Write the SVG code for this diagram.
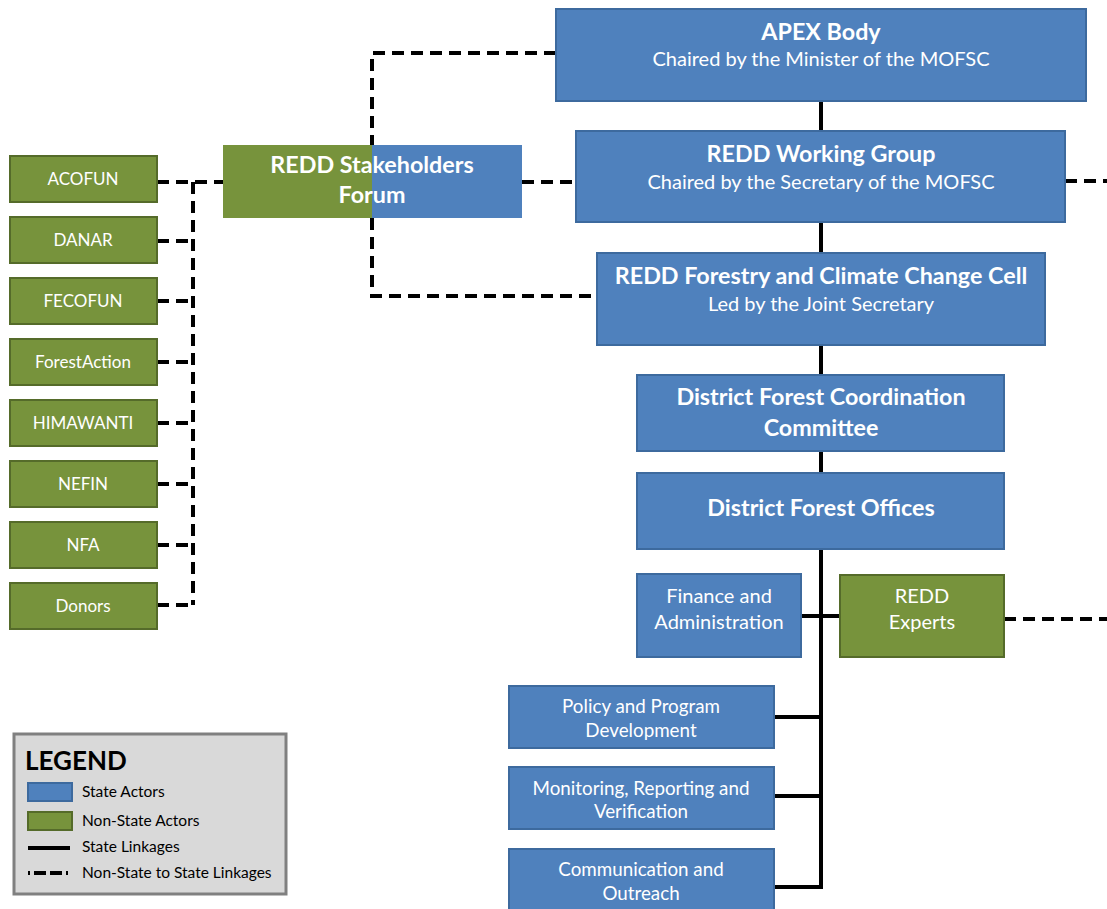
<svg xmlns="http://www.w3.org/2000/svg" width="1107" height="909" viewBox="0 0 1107 909">
<defs>
<style>
.s{fill:#4f81bd;stroke:#3d6a9e;stroke-width:2}
.n{fill:#77933c;stroke:#556b2a;stroke-width:2}
.t{font-family:Lato,"Liberation Sans",sans-serif;fill:#fff;text-anchor:middle}
.b{font-weight:bold;font-size:23.3px}
.m{font-size:20px}
.g{font-size:17px}
.h{font-size:18.8px}
.solid{fill:none;stroke:#000;stroke-width:4}
.dash{fill:none;stroke:#000;stroke-width:4;stroke-dasharray:12,7}
.lt{font-family:Lato,"Liberation Sans",sans-serif;fill:#000;font-size:15.5px}
</style>
</defs>
<rect width="1107" height="909" fill="#fff"/>
<g id="connectors">
<path class="solid" d="M821 101V131M821 222V253M821 345V375M821 451V473M821 549V887H774M774 717H821M774 796H821M801 616H840"/>
<path class="dash" d="M157 182H223M522 182H576M1065 181H1107M1004 619H1107M556 53H372V145M372 218V296H597"/>
<path class="dash" d="M193 182V605M157 241H193M157 301H193M157 362H193M157 423H193M157 484H193M157 545H193M157 605H193"/>
</g>
<g id="apex"><rect class="s" x="556" y="9" width="530" height="92"/><text class="t b" x="821" y="40">APEX Body</text><text class="t m" x="821" y="66">Chaired by the Minister of the MOFSC</text></g>
<g id="rwg"><rect class="s" x="576" y="131" width="489" height="91"/><text class="t b" x="821" y="162">REDD Working Group</text><text class="t m" x="821" y="189">Chaired by the Secretary of the MOFSC</text></g>
<g id="forum"><rect x="223" y="145" width="150" height="73" fill="#77933c"/><rect x="372" y="145" width="150" height="73" fill="#4f81bd"/><text class="t b" x="372" y="173">REDD Stakeholders</text><text class="t b" x="372" y="203">Forum</text></g>
<g id="rfccc"><rect class="s" x="597" y="253" width="448" height="92"/><text class="t b" x="821" y="284">REDD Forestry and Climate Change Cell</text><text class="t m" x="821" y="311">Led by the Joint Secretary</text></g>
<g id="dfcc"><rect class="s" x="637" y="375" width="367" height="76"/><text class="t b" x="821" y="405">District Forest Coordination</text><text class="t b" x="821" y="436">Committee</text></g>
<g id="dfo"><rect class="s" x="637" y="473" width="367" height="76"/><text class="t b" x="821" y="516">District Forest Offices</text></g>
<g id="finance"><rect class="s" x="637" y="574" width="164" height="83"/><text class="t m" x="719" y="603">Finance and</text><text class="t m" x="719" y="629">Administration</text></g>
<g id="experts"><rect class="n" x="840" y="575" width="164" height="82"/><text class="t m" x="922" y="603">REDD</text><text class="t m" x="922" y="629">Experts</text></g>
<g id="policy"><rect class="s" x="509" y="686" width="265" height="62"/><text class="t h" x="641" y="713">Policy and Program</text><text class="t h" x="641" y="737">Development</text></g>
<g id="mrv"><rect class="s" x="509" y="767" width="265" height="62"/><text class="t h" x="641" y="795">Monitoring, Reporting and</text><text class="t h" x="641" y="818">Verification</text></g>
<g id="comm"><rect class="s" x="509" y="849" width="265" height="70"/><text class="t h" x="641" y="876">Communication and</text><text class="t h" x="641" y="900">Outreach</text></g>
<g id="acofun"><rect class="n" x="10" y="156" width="147" height="46"/><text class="t g" x="83" y="185">ACOFUN</text></g>
<g id="danar"><rect class="n" x="10" y="217" width="147" height="46"/><text class="t g" x="83" y="246">DANAR</text></g>
<g id="fecofun"><rect class="n" x="10" y="278" width="147" height="46"/><text class="t g" x="83" y="307">FECOFUN</text></g>
<g id="forestaction"><rect class="n" x="10" y="339" width="147" height="46"/><text class="t g" x="83" y="368">ForestAction</text></g>
<g id="himawanti"><rect class="n" x="10" y="400" width="147" height="46"/><text class="t g" x="83" y="429">HIMAWANTI</text></g>
<g id="nefin"><rect class="n" x="10" y="461" width="147" height="46"/><text class="t g" x="83" y="490">NEFIN</text></g>
<g id="nfa"><rect class="n" x="10" y="522" width="147" height="46"/><text class="t g" x="83" y="551">NFA</text></g>
<g id="donors"><rect class="n" x="10" y="583" width="147" height="46"/><text class="t g" x="83" y="612">Donors</text></g>
<g id="legend">
<rect x="14" y="734" width="272" height="160" fill="#d9d9d9" stroke="#808080" stroke-width="3"/>
<text x="25" y="770" font-family="Lato,'Liberation Sans',sans-serif" font-weight="bold" font-size="26" fill="#000">LEGEND</text>
<rect class="s" x="28" y="783" width="44" height="18"/>
<rect class="n" x="28" y="812" width="44" height="18"/>
<path class="solid" d="M28 848H70"/>
<path d="M28 873H70" fill="none" stroke="#000" stroke-width="4" stroke-dasharray="2,4,12,4,12,4"/>
<text class="lt" x="82" y="797">State Actors</text>
<text class="lt" x="82" y="826">Non-State Actors</text>
<text class="lt" x="82" y="852">State Linkages</text>
<text class="lt" x="82" y="878">Non-State to State Linkages</text>
</g>
</svg>
